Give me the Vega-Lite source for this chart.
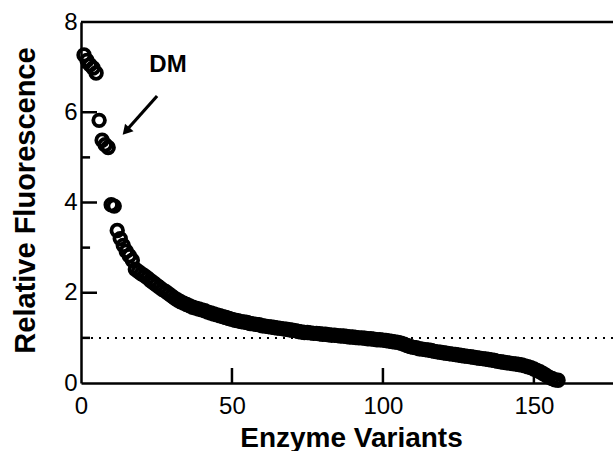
{
  "$schema": "https://vega.github.io/schema/vega-lite/v6.json",
  "width": 532,
  "height": 361,
  "autosize": {"type": "none"},
  "padding": {"left": 81, "top": 22, "right": 0, "bottom": 68},
  "background": "white",
  "config": {
    "view": {"stroke": null},
    "font": "Liberation Sans",
    "axis": {"grid": false, "ticks": false, "domainColor": "black", "domainWidth": 2.5, "labelColor": "black", "titleColor": "black", "labelFont": "Liberation Sans", "titleFont": "Liberation Sans", "labelFlush": false, "labelOverlap": false}
  },
  "datasets": {
    "pts": [
      {"i":1,"v":7.27},{"i":2,"v":7.15},{"i":3,"v":7.05},{"i":4,"v":6.98},{"i":5,"v":6.87},
      {"i":6,"v":5.82},{"i":7,"v":5.38},{"i":8,"v":5.28},{"i":9,"v":5.22},{"i":10,"v":3.95},
      {"i":11,"v":3.92},{"i":12,"v":3.38},{"i":13,"v":3.2},{"i":14,"v":3.05},{"i":15,"v":2.92},
      {"i":16,"v":2.82},{"i":17,"v":2.72},{"i":18,"v":2.52},{"i":19,"v":2.47},{"i":20,"v":2.42},
      {"i":21,"v":2.38},{"i":22,"v":2.33},{"i":23,"v":2.27},{"i":24,"v":2.22},{"i":25,"v":2.17},
      {"i":26,"v":2.12},{"i":27,"v":2.07},{"i":28,"v":2.03},{"i":29,"v":1.98},{"i":30,"v":1.93},
      {"i":31,"v":1.88},{"i":32,"v":1.84},{"i":33,"v":1.8},{"i":34,"v":1.77},{"i":35,"v":1.74},
      {"i":36,"v":1.71},{"i":37,"v":1.68},{"i":38,"v":1.66},{"i":39,"v":1.64},{"i":40,"v":1.62},
      {"i":41,"v":1.6},{"i":42,"v":1.57},{"i":43,"v":1.55},{"i":44,"v":1.53},{"i":45,"v":1.51},
      {"i":46,"v":1.49},{"i":47,"v":1.47},{"i":48,"v":1.45},{"i":49,"v":1.43},{"i":50,"v":1.41},
      {"i":51,"v":1.39},{"i":52,"v":1.38},{"i":53,"v":1.36},{"i":54,"v":1.35},{"i":55,"v":1.34},
      {"i":56,"v":1.32},{"i":57,"v":1.31},{"i":58,"v":1.3},{"i":59,"v":1.29},{"i":60,"v":1.27},
      {"i":61,"v":1.26},{"i":62,"v":1.25},{"i":63,"v":1.24},{"i":64,"v":1.23},{"i":65,"v":1.22},
      {"i":66,"v":1.21},{"i":67,"v":1.2},{"i":68,"v":1.19},{"i":69,"v":1.18},{"i":70,"v":1.17},
      {"i":71,"v":1.16},{"i":72,"v":1.14},{"i":73,"v":1.13},{"i":74,"v":1.12},{"i":75,"v":1.12},
      {"i":76,"v":1.11},{"i":77,"v":1.1},{"i":78,"v":1.1},{"i":79,"v":1.09},{"i":80,"v":1.08},
      {"i":81,"v":1.08},{"i":82,"v":1.07},{"i":83,"v":1.06},{"i":84,"v":1.06},{"i":85,"v":1.05},
      {"i":86,"v":1.04},{"i":87,"v":1.04},{"i":88,"v":1.03},{"i":89,"v":1.02},{"i":90,"v":1.02},
      {"i":91,"v":1.01},{"i":92,"v":1.0},{"i":93,"v":1.0},{"i":94,"v":0.99},{"i":95,"v":0.98},
      {"i":96,"v":0.98},{"i":97,"v":0.97},{"i":98,"v":0.96},{"i":99,"v":0.96},{"i":100,"v":0.95},
      {"i":101,"v":0.94},{"i":102,"v":0.93},{"i":103,"v":0.92},{"i":104,"v":0.91},{"i":105,"v":0.9},
      {"i":106,"v":0.88},{"i":107,"v":0.86},{"i":108,"v":0.83},{"i":109,"v":0.81},{"i":110,"v":0.79},
      {"i":111,"v":0.78},{"i":112,"v":0.76},{"i":113,"v":0.75},{"i":114,"v":0.74},{"i":115,"v":0.73},
      {"i":116,"v":0.72},{"i":117,"v":0.7},{"i":118,"v":0.69},{"i":119,"v":0.68},{"i":120,"v":0.67},
      {"i":121,"v":0.66},{"i":122,"v":0.65},{"i":123,"v":0.64},{"i":124,"v":0.63},{"i":125,"v":0.62},
      {"i":126,"v":0.61},{"i":127,"v":0.6},{"i":128,"v":0.59},{"i":129,"v":0.58},{"i":130,"v":0.57},
      {"i":131,"v":0.56},{"i":132,"v":0.55},{"i":133,"v":0.54},{"i":134,"v":0.53},{"i":135,"v":0.52},
      {"i":136,"v":0.51},{"i":137,"v":0.5},{"i":138,"v":0.48},{"i":139,"v":0.47},{"i":140,"v":0.46},
      {"i":141,"v":0.45},{"i":142,"v":0.44},{"i":143,"v":0.43},{"i":144,"v":0.42},{"i":145,"v":0.41},
      {"i":146,"v":0.4},{"i":147,"v":0.38},{"i":148,"v":0.36},{"i":149,"v":0.34},{"i":150,"v":0.31},
      {"i":151,"v":0.28},{"i":152,"v":0.25},{"i":153,"v":0.21},{"i":154,"v":0.17},{"i":155,"v":0.13},
      {"i":156,"v":0.1},{"i":157,"v":0.07},{"i":158,"v":0.06}
    ],
    "yticks": [{"y":1,"x0":0,"len":3.0},{"y":2,"x0":0,"len":5.3},{"y":3,"x0":0,"len":3.0},{"y":4,"x0":0,"len":5.3},{"y":5,"x0":0,"len":3.0},{"y":6,"x0":0,"len":5.3},{"y":7,"x0":0,"len":3.0}],
    "xticks": [{"x":50,"y0":0,"y1":0.333},{"x":100,"y0":0,"y1":0.333},{"x":150,"y0":0,"y1":0.333}],
    "hlines": [{"y":1}],
    "top": [{"y":8}],
    "label": [{"x":28.8,"y":7.04,"t":"DM"}],
    "arrow": [{"x":25.2,"y":6.36,"x2":15.6,"y2":5.64}],
    "head": [{"x":14.9,"y":5.58}]
  },
  "layer": [
    {
      "data": {"name": "pts"},
      "mark": {"type": "point", "shape": "circle", "filled": false, "color": "black", "size": 135, "strokeWidth": 3.8, "opacity": 1},
      "encoding": {
        "x": {"field": "i", "type": "quantitative", "scale": {"domain": [0, 176.2], "nice": false, "zero": false},
          "axis": {"values": [0, 50, 100, 150], "title": "Enzyme Variants", "labelPadding": 11, "labelFontSize": 24, "titleFontSize": 28, "titleFontWeight": "bold", "titleX": 270, "titleY": 63, "titleBaseline": "alphabetic", "orient": "bottom"}},
        "y": {"field": "v", "type": "quantitative", "scale": {"domain": [0, 8], "nice": false},
          "axis": {"values": [0, 2, 4, 6, 8], "title": "Relative Fluorescence", "labelPadding": 4, "labelFontSize": 24, "titleFontSize": 29, "titleFontWeight": "bold", "titleAngle": -90, "titleX": -47, "titleY": 178, "titleBaseline": "alphabetic", "titleAlign": "center", "orient": "left"}}
      }
    },
    {
      "data": {"name": "hlines"},
      "mark": {"type": "rule", "color": "black", "strokeWidth": 2, "strokeDash": [2, 6]},
      "encoding": {"y": {"field": "y", "type": "quantitative"}}
    },
    {
      "data": {"name": "top"},
      "mark": {"type": "rule", "color": "black", "strokeWidth": 2.5},
      "encoding": {"y": {"field": "y", "type": "quantitative"}}
    },
    {
      "data": {"name": "yticks"},
      "mark": {"type": "rule", "color": "black", "strokeWidth": 2.5},
      "encoding": {
        "y": {"field": "y", "type": "quantitative"},
        "x": {"field": "x0", "type": "quantitative"},
        "x2": {"field": "len"}
      }
    },
    {
      "data": {"name": "xticks"},
      "mark": {"type": "rule", "color": "black", "strokeWidth": 2.5},
      "encoding": {
        "x": {"field": "x", "type": "quantitative"},
        "y": {"field": "y0", "type": "quantitative"},
        "y2": {"field": "y1"}
      }
    },
    {
      "data": {"name": "label"},
      "mark": {"type": "text", "fontSize": 24, "fontWeight": "bold", "color": "black", "align": "center", "baseline": "middle", "font": "Liberation Sans"},
      "encoding": {
        "x": {"field": "x", "type": "quantitative"},
        "y": {"field": "y", "type": "quantitative"},
        "text": {"field": "t"}
      }
    },
    {
      "data": {"name": "arrow"},
      "mark": {"type": "rule", "color": "black", "strokeWidth": 3.2},
      "encoding": {
        "x": {"field": "x", "type": "quantitative"},
        "y": {"field": "y", "type": "quantitative"},
        "x2": {"field": "x2"},
        "y2": {"field": "y2"}
      }
    },
    {
      "data": {"name": "head"},
      "mark": {"type": "point", "shape": "triangle-up", "filled": true, "color": "black", "size": 130, "angle": 222, "opacity": 1},
      "encoding": {
        "x": {"field": "x", "type": "quantitative"},
        "y": {"field": "y", "type": "quantitative"}
      }
    }
  ]
}
